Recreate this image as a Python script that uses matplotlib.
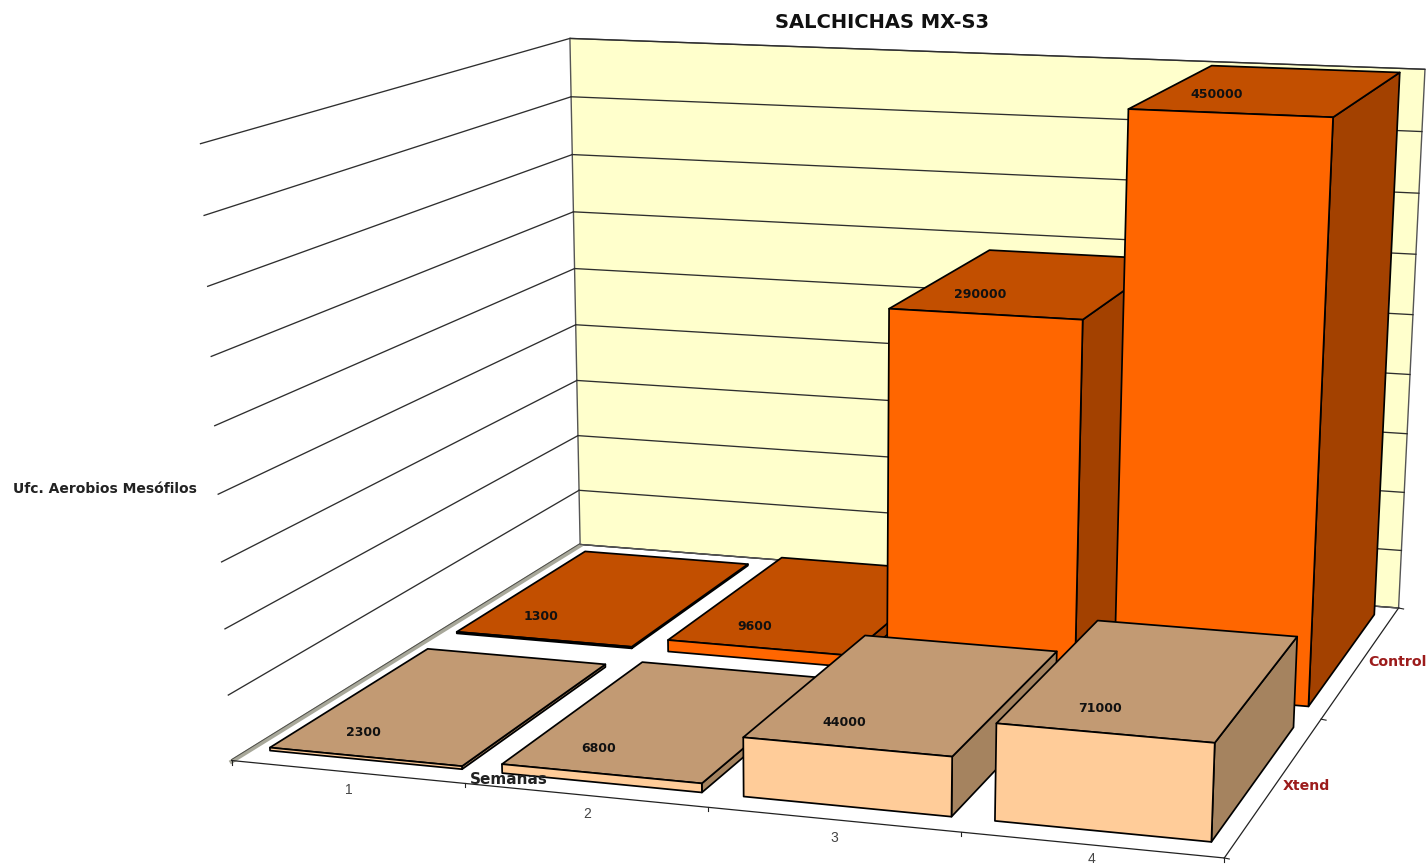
import numpy as np
import matplotlib
matplotlib.use("Agg")
import matplotlib.pyplot as plt
from matplotlib.patches import Polygon

# Chart data
weeks = ["1", "2", "3", "4"]
series_names = ["Xtend", "Control"]
xtend = [2300, 6800, 44000, 71000]
control = [1300, 9600, 290000, 450000]
grid_step = 50000
grid_levels = 9

title = "SALCHICHAS MX-S3"
value_title = "Ufc. Aerobios Mesófilos"
week_title = "Semanas"

# Camera calibration: (week, row, level) -> canvas position
world = np.array([
    (0, 0, 0), (1, 0, 0), (2, 0, 0), (3, 0, 0), (4, 0, 0),
    (4, 1, 0), (4, 2, 0), (0, 2, 0),
    (0, 2, 9), (4, 2, 9), (0, 0, 9),
    (0, 2, 3), (0, 2, 6), (0, 0, 3), (0, 0, 6),
], float)
canvas = np.array([
    (233, 760), (465, 783), (707, 809), (960, 833), (1224, 857),
    (1323, 718), (1398, 608), (580, 545),
    (570, 38), (1425, 70), (201, 143),
    (577, 380), (573, 212), (221, 562), (211, 357),
], float)


def fit_camera(w, c):
    rows = []
    for (x, y, z), (u, v) in zip(w, c):
        rows.append([x, y, z, 1, 0, 0, 0, 0, -u * x, -u * y, -u * z, -u])
        rows.append([0, 0, 0, 0, x, y, z, 1, -v * x, -v * y, -v * z, -v])
    _, _, vt = np.linalg.svd(np.array(rows))
    return vt[-1].reshape(3, 4)


CAM = fit_camera(world, canvas)


def project(x, y, z):
    p = CAM @ np.array([x, y, z, 1.0])
    return p[0] / p[2], p[1] / p[2]


fig = plt.figure(figsize=(14.26, 8.66), dpi=100, facecolor="white")
ax = fig.add_axes([0, 0, 1, 1])
ax.set_xlim(0, 1426)
ax.set_ylim(866, 0)
ax.axis("off")

n = len(weeks)
rows = len(series_names)
grid_color = "#2e2e2e"

# Back wall
ax.add_patch(Polygon([project(0, rows, 0), project(n, rows, 0),
                      project(n, rows, grid_levels), project(0, rows, grid_levels)],
                     closed=True, fc="#FFFFCC", ec="#555555", lw=1.0, zorder=1))
for k in range(grid_levels + 1):
    a, b, c = project(0, 0, k), project(0, rows, k), project(n, rows, k)
    ax.plot([b[0], c[0]], [b[1], c[1]], color=grid_color, lw=0.95, zorder=2)
    if k > 0:
        ax.plot([a[0], b[0]], [a[1], b[1]], color=grid_color, lw=0.95, zorder=2)

# Floor: thick grey edge along the left wall, thin axis lines in front and on the right
p0, p1 = project(0, 0, 0), project(0, rows, 0)
ax.plot([p0[0], p1[0]], [p0[1] + 1, p1[1] + 1], color="#a8a89a", lw=3.0, zorder=2)
ax.plot([p0[0], p1[0]], [p0[1] - 1, p1[1] - 1], color="#4d4d48", lw=0.7, zorder=2)
p2, p3 = project(n, 0, 0), project(n, rows, 0)
ax.plot([p0[0], p2[0]], [p0[1], p2[1]], color="#222222", lw=0.9, zorder=2)
ax.plot([p2[0], p3[0]], [p2[1], p3[1]], color="#222222", lw=0.9, zorder=2)
ax.plot([p1[0], p3[0]], [p1[1], p3[1]], color="#555555", lw=0.9, zorder=2)
for i in range(n + 1):
    u, v = project(i, 0, 0)
    ax.plot([u, u], [v, v + 4], color="#222222", lw=0.8, zorder=2)
for j in range(rows + 1):
    u, v = project(n, j, 0)
    ax.plot([u, u + 5], [v, v + 1], color="#222222", lw=0.8, zorder=2)

# Bars, painted from the back row to the front row and left to right
styles = {
    "Control": ("#FF6600", "#C24F00", "#A34100"),
    "Xtend": ("#FFCC99", "#C29A73", "#A5835F"),
}
series_values = {"Xtend": xtend, "Control": control}
margin = 0.085
front_gap = 0.09
back_gap = 0.08
zorder = 3
for r in reversed(range(rows)):
    name = series_names[r]
    front_c, top_c, side_c = styles[name]
    for i, val in enumerate(series_values[name]):
        x0, x1 = i + margin, i + 1 - margin
        y0, y1 = r + front_gap, r + 1 - back_gap
        h = val / grid_step
        faces = [
            ([(x1, y0, 0), (x1, y1, 0), (x1, y1, h), (x1, y0, h)], side_c),
            ([(x0, y0, h), (x1, y0, h), (x1, y1, h), (x0, y1, h)], top_c),
            ([(x0, y0, 0), (x1, y0, 0), (x1, y0, h), (x0, y0, h)], front_c),
        ]
        for pts, col in faces:
            ax.add_patch(Polygon([project(*p) for p in pts], closed=True, fc=col,
                                 ec="black", lw=1.25, joinstyle="round", zorder=zorder))
        zorder += 1

# Text
bold = dict(family="DejaVu Sans", fontweight="bold", ha="center", va="center", zorder=50)
ax.text(882, 22, title, fontsize=14, color="#111111", **bold)
ax.text(105, 489, value_title, fontsize=10, color="#222222", **bold)
ax.text(509, 780, week_title, fontsize=11, color="#222222", **bold)
ax.text(1397, 662, "Control", fontsize=10.2, color="#9C1C1C", **bold)
ax.text(1306, 786, "Xtend", fontsize=10.2, color="#9C1C1C", **bold)

label_positions = {
    "Xtend": [(363, 732), (599, 749), (844, 723), (1100, 709)],
    "Control": [(541, 617), (755, 626), (980, 294), (1217, 94)],
}
for name in series_names:
    for val, (u, v) in zip(series_values[name], label_positions[name]):
        ax.text(u, v, str(val), fontsize=9.0, color="#111111", **bold)

for lab, (u, v) in zip(weeks, [(349, 790), (587, 814), (834, 838), (1092, 859)]):
    ax.text(u, v, lab, fontsize=10, color="#444444", family="Liberation Sans",
            ha="center", va="center", zorder=50)

fig.savefig("out.png", dpi=100, facecolor="white")
